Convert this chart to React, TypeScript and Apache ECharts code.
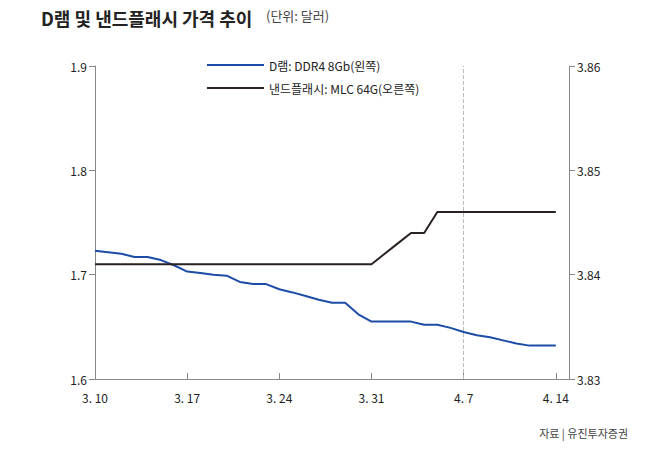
import * as echarts from "echarts";
import { useEffect, useRef } from "react";

// days 3/10 .. 4/15 (last slot empty, axis runs past the final point)
const days: string[] = [];
for (let d = 10; d <= 31; d++) days.push(`3. ${d}`);
for (let d = 1; d <= 15; d++) days.push(`4. ${d}`);

const dram = [
  1.723, 1.7215, 1.72, 1.717, 1.717, 1.714, 1.709, 1.703, 1.7015, 1.7, 1.699, 1.693,
  1.691, 1.691, 1.686, 1.683, 1.6795, 1.676, 1.673, 1.673, 1.662, 1.655, 1.655, 1.655,
  1.655, 1.652, 1.652, 1.649, 1.645, 1.642, 1.64, 1.637, 1.634, 1.632, 1.632, 1.632,
];

const nand = [
  3.841, 3.841, 3.841, 3.841, 3.841, 3.841, 3.841, 3.841, 3.841, 3.841, 3.841, 3.841,
  3.841, 3.841, 3.841, 3.841, 3.841, 3.841, 3.841, 3.841, 3.841, 3.841, 3.842, 3.843,
  3.844, 3.844, 3.846, 3.846, 3.846, 3.846, 3.846, 3.846, 3.846, 3.846, 3.846, 3.846,
];

const dramName = "D램: DDR4 8Gb(왼쪽)";
const nandName = "낸드플래시: MLC 64G(오른쪽)";
const FONT = "'Noto Sans CJK KR', sans-serif";
const shownLabels = ["3. 10", "3. 17", "3. 24", "3. 31", "4. 7", "4. 14"];

export default function App() {
  const ref = useRef<HTMLDivElement>(null);

  useEffect(() => {
    const chart = echarts.init(ref.current!, undefined, { renderer: "svg" });
    chart.setOption({
      animation: false,
      textStyle: { fontFamily: FONT },
      title: {
        text: "D램 및 낸드플래시 가격 추이",
        left: 36,
        top: 4,
        textStyle: { fontSize: 18, fontWeight: "bold", color: "#222", fontFamily: FONT },
      },
      graphic: [
        { type: "text", left: 266, top: 9, style: { text: "(단위: 달러)", fontSize: 13, fill: "#444", fontFamily: FONT } },
        { type: "text", right: 22, bottom: 12, style: { text: "자료 | 유진투자증권", fontSize: 11, fill: "#444", fontFamily: FONT } },
      ],
      legend: {
        orient: "vertical",
        left: 202,
        top: 54,
        itemGap: 11,
        itemWidth: 57,
        itemHeight: 2,
        icon: "rect",
        textStyle: { fontSize: 12, color: "#222", fontFamily: FONT },
        data: [dramName, nandName],
      },
      grid: { left: 95, right: 81, top: 66, bottom: 71 },
      xAxis: {
        type: "category",
        data: days,
        boundaryGap: false,
        axisLine: { lineStyle: { color: "#888", width: 1 } },
        axisTick: {
          inside: true,
          length: 6,
          lineStyle: { color: "#888" },
          interval: (i: number) => shownLabels.includes(days[i]),
        },
        axisLabel: {
          interval: (i: number) => shownLabels.includes(days[i]),
          color: "#222",
          fontSize: 12,
          margin: 12,
        },
        splitLine: { show: false },
      },
      yAxis: [
        {
          type: "value",
          min: 1.6,
          max: 1.9,
          interval: 0.1,
          axisLine: { show: true, lineStyle: { color: "#888" } },
          axisTick: { show: true, length: 6, lineStyle: { color: "#888" } },
          axisLabel: { color: "#222", fontSize: 12, formatter: (v: number) => v.toFixed(1) },
          splitLine: { show: false },
        },
        {
          type: "value",
          min: 3.83,
          max: 3.86,
          interval: 0.01,
          axisLine: { show: true, lineStyle: { color: "#888" } },
          axisTick: { show: true, length: 6, lineStyle: { color: "#888" } },
          axisLabel: { color: "#222", fontSize: 12, formatter: (v: number) => v.toFixed(2) },
          splitLine: { show: false },
        },
      ],
      series: [
        {
          name: dramName,
          type: "line",
          data: dram,
          yAxisIndex: 0,
          symbol: "none",
          lineStyle: { color: "#1c4ca6", width: 2 },
          itemStyle: { color: "#1c4ca6" },
          markLine: {
            silent: true,
            symbol: "none",
            label: { show: false },
            lineStyle: { color: "#bbb", type: "dashed", width: 1 },
            data: [{ xAxis: "4. 7" }],
          },
        },
        {
          name: nandName,
          type: "line",
          data: nand,
          yAxisIndex: 1,
          symbol: "none",
          lineStyle: { color: "#2a2220", width: 2 },
          itemStyle: { color: "#2a2220" },
        },
      ],
    });
    return () => chart.dispose();
  }, []);

  return <div ref={ref} style={{ width: 650, height: 450, margin: -8, background: "#fff" }} />;
}
